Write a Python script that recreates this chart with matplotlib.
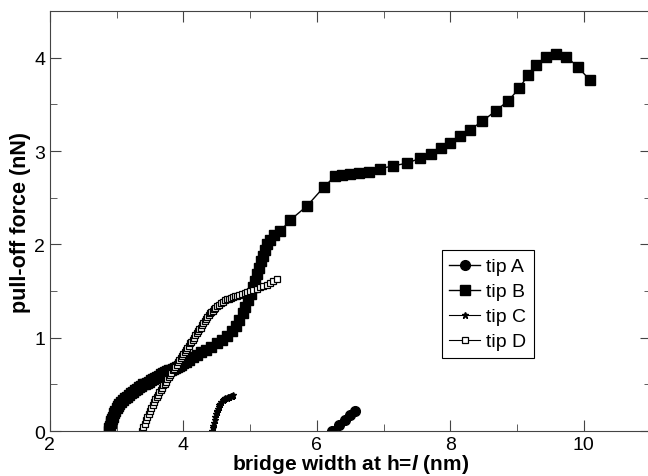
import matplotlib
matplotlib.use("Agg")
import matplotlib.pyplot as plt
from matplotlib.ticker import MultipleLocator

plt.rcParams["font.family"] = ["Liberation Sans", "DejaVu Sans"]
plt.rcParams["mathtext.fontset"] = "custom"
plt.rcParams["mathtext.it"] = "Liberation Sans:italic:bold"

# tip A (filled circles)
tipA_x = [6.22, 6.33, 6.42, 6.50, 6.57]
tipA_y = [0.00, 0.07, 0.12, 0.17, 0.22]

# tip B (filled squares)
tipB_x = [2.88, 2.89, 2.90, 2.91, 2.92, 2.93, 2.94, 2.96, 2.98, 3.00, 3.02, 3.04,
          3.07, 3.10, 3.13, 3.16, 3.19, 3.22, 3.25, 3.28, 3.31, 3.34, 3.37, 3.40,
          3.43, 3.46, 3.49, 3.52, 3.55, 3.58, 3.61, 3.64, 3.67, 3.70, 3.73, 3.76,
          3.79, 3.82, 3.85, 3.88, 3.91, 3.94, 3.97, 4.00, 4.04, 4.08, 4.14, 4.20,
          4.27, 4.34, 4.42, 4.50, 4.58, 4.66, 4.73, 4.79, 4.84, 4.89, 4.93, 4.97,
          5.01, 5.04, 5.07, 5.10, 5.13, 5.16, 5.19, 5.22, 5.26, 5.30, 5.36, 5.45,
          5.60, 5.85, 6.10, 6.27, 6.37, 6.49, 6.63, 6.78, 6.94, 7.14, 7.35, 7.54,
          7.71, 7.86, 7.99, 8.14, 8.30, 8.48, 8.68, 8.87, 9.03, 9.16, 9.29, 9.44,
          9.58, 9.74, 9.91, 10.09]
tipB_y = [0.00, 0.03, 0.06, 0.09, 0.11, 0.13, 0.15, 0.19, 0.22, 0.25, 0.27, 0.29,
          0.31, 0.33, 0.35, 0.37, 0.39, 0.41, 0.42, 0.44, 0.45, 0.47, 0.48, 0.50,
          0.51, 0.52, 0.53, 0.55, 0.56, 0.57, 0.58, 0.59, 0.61, 0.62, 0.63, 0.64,
          0.65, 0.66, 0.67, 0.68, 0.69, 0.70, 0.71, 0.73, 0.74, 0.76, 0.79, 0.82,
          0.85, 0.87, 0.90, 0.94, 0.98, 1.02, 1.07, 1.13, 1.19, 1.26, 1.33, 1.40,
          1.47, 1.54, 1.61, 1.68, 1.75, 1.82, 1.88, 1.94, 2.00, 2.05, 2.10, 2.14,
          2.26, 2.41, 2.61, 2.73, 2.74, 2.75, 2.76, 2.78, 2.81, 2.84, 2.87, 2.92,
          2.97, 3.03, 3.09, 3.16, 3.23, 3.32, 3.43, 3.54, 3.67, 3.81, 3.92, 4.01,
          4.04, 4.01, 3.90, 3.76]

# tip C (small stars)
tipC_x = [4.43, 4.44, 4.45, 4.46, 4.47, 4.48, 4.49, 4.50, 4.51, 4.52, 4.53, 4.54,
          4.55, 4.57, 4.59, 4.61, 4.63, 4.65, 4.67, 4.69, 4.71, 4.73, 4.75]
tipC_y = [0.00, 0.03, 0.06, 0.09, 0.12, 0.15, 0.18, 0.20, 0.22, 0.24, 0.26, 0.28,
          0.29, 0.31, 0.33, 0.34, 0.35, 0.36, 0.365, 0.37, 0.375, 0.38, 0.385]

# tip D (open squares)
tipD_x = [3.38, 3.40, 3.42, 3.44, 3.46, 3.48, 3.50, 3.52, 3.54, 3.56, 3.58, 3.60,
          3.62, 3.64, 3.66, 3.68, 3.70, 3.72, 3.74, 3.76, 3.78, 3.80, 3.82, 3.84,
          3.86, 3.88, 3.90, 3.92, 3.94, 3.96, 3.98, 4.00, 4.02, 4.04, 4.06, 4.08,
          4.10, 4.12, 4.14, 4.16, 4.18, 4.20, 4.22, 4.24, 4.26, 4.28, 4.30, 4.32,
          4.34, 4.36, 4.38, 4.40, 4.42, 4.44, 4.46, 4.48, 4.50, 4.53, 4.56, 4.59,
          4.62, 4.65, 4.68, 4.71, 4.74, 4.77, 4.80, 4.84, 4.88, 4.92, 4.96, 5.00,
          5.05, 5.10, 5.15, 5.20, 5.25, 5.30, 5.35, 5.40]
tipD_y = [0.00, 0.04, 0.08, 0.12, 0.15, 0.18, 0.22, 0.25, 0.28, 0.31, 0.34, 0.37,
          0.39, 0.42, 0.44, 0.46, 0.49, 0.51, 0.53, 0.56, 0.58, 0.60, 0.62, 0.65,
          0.67, 0.69, 0.71, 0.74, 0.76, 0.78, 0.80, 0.83, 0.85, 0.87, 0.89, 0.91,
          0.94, 0.96, 0.98, 1.00, 1.03, 1.05, 1.07, 1.09, 1.11, 1.14, 1.16, 1.18,
          1.20, 1.22, 1.24, 1.26, 1.28, 1.29, 1.31, 1.32, 1.34, 1.35, 1.37, 1.38,
          1.40, 1.41, 1.42, 1.43, 1.44, 1.45, 1.45, 1.46, 1.47, 1.48, 1.49, 1.50,
          1.51, 1.52, 1.54, 1.55, 1.57, 1.59, 1.61, 1.63]

fig = plt.figure(figsize=(6.48, 4.77), dpi=100)
ax = fig.add_axes([0.077, 0.094, 0.927, 0.881])

ax.plot(tipA_x, tipA_y, "-o", color="black", lw=1, ms=7, label="tip A")
ax.plot(tipB_x, tipB_y, "-s", color="black", lw=1, ms=6.5, label="tip B")
ax.plot(tipC_x, tipC_y, "-*", color="black", lw=0.8, ms=5, label="tip C")
ax.plot(tipD_x, tipD_y, "-s", color="black", lw=0.8, ms=5, mfc="white",
        mew=0.9, label="tip D")

ax.set_xlim(2, 11)
ax.set_ylim(0, 4.5)
ax.xaxis.set_major_locator(MultipleLocator(2))
ax.xaxis.set_minor_locator(MultipleLocator(1))
ax.yaxis.set_major_locator(MultipleLocator(1))
ax.yaxis.set_minor_locator(MultipleLocator(0.5))
ax.tick_params(which="both", direction="in", top=True, right=True,
               labelsize=14, color="#444444")
ax.tick_params(which="major", length=8)
ax.tick_params(which="minor", length=5)
for s in ax.spines.values():
    s.set_color("#444444")

ax.set_xlabel(r"bridge width at h=$\mathit{l}$ (nm)", fontsize=15,
              fontweight="bold", labelpad=-1)
ax.set_ylabel("pull-off force (nN)", fontsize=15.5, fontweight="bold",
              labelpad=2)

leg = ax.legend(loc="upper left", bbox_to_anchor=(0.652, 0.431), fontsize=14,
                fancybox=False, framealpha=1, edgecolor="black",
                handlelength=1.6, handletextpad=0.3, borderpad=0.4,
                labelspacing=0.38, borderaxespad=0)
leg.get_frame().set_linewidth(0.8)

fig.savefig("out.png", dpi=100)
